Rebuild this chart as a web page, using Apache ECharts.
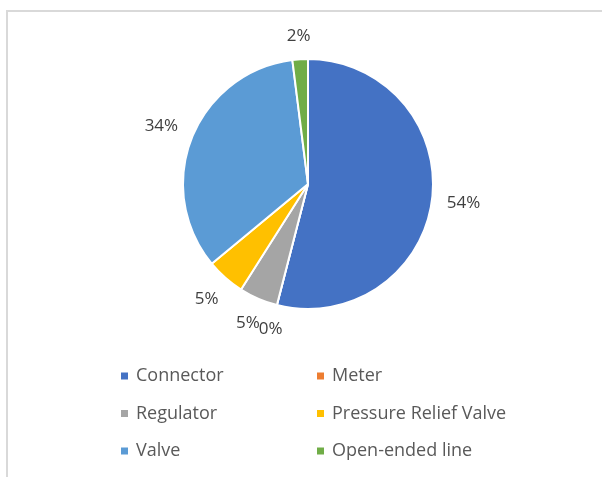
<!DOCTYPE html>
<html>
<head>
<meta charset="utf-8">
<script src="https://cdn.jsdelivr.net/npm/echarts@6/dist/echarts.min.js"></script>
<style>
  html, body { margin: 0; padding: 0; background: #fff; }
  #chart { width: 602px; height: 477px; }
</style>
</head>
<body>
<div id="chart"></div>
<script>
// 数据
const categories = ['Connector', 'Meter', 'Regulator', 'Pressure Relief Valve', 'Valve', 'Open-ended line']
const shares = [54, 0, 5, 5, 34, 2]
const colors = ['#4472C4', '#ED7D31', '#A5A5A5', '#FFC000', '#5B9BD5', '#70AD47']

const leftLegend = ['Connector', 'Regulator', 'Valve']
const rightLegend = ['Meter', 'Pressure Relief Valve', 'Open-ended line']

// 饼图几何
const cx = 308
const cy = 184
const radius = 125
const labelGap = 14

const total = shares.reduce((a, b) => a + b, 0)

// 标签放在扇区中线方向上，外侧留固定间距
const placeLabel = (params) => {
  const i = params.dataIndex
  let before = 0
  for (let k = 0; k < i; k++) before += shares[k]
  const mid = (before + shares[i] / 2) / total * Math.PI * 2
  const dx = Math.sin(mid)
  const dy = -Math.cos(mid)
  const w = params.labelRect.width
  const h = params.labelRect.height
  const d = radius + labelGap + Math.abs(dx) * w / 2 + Math.abs(dy) * h / 2
  return {
    x: cx + dx * d,
    y: cy + dy * d,
    align: 'center',
    verticalAlign: 'middle'
  }
}

const legendBase = {
  orient: 'vertical',
  top: 366,
  padding: 0,
  icon: 'rect',
  itemWidth: 7,
  itemHeight: 7,
  itemGap: 17.5,
  selectedMode: false,
  itemStyle: { borderWidth: 0 },
  textStyle: {
    fontFamily: 'Open Sans',
    fontSize: 18,
    color: '#595959',
    lineHeight: 20,
    padding: [0, 0, 0, 3]
  }
}

const chart = echarts.init(document.getElementById('chart'))
chart.setOption({
  animation: false,
  color: colors,
  graphic: [
    {
      type: 'rect',
      shape: { x: 7, y: 11, width: 700, height: 600 },
      style: { fill: 'none', stroke: '#d9d9d9', lineWidth: 2 },
      silent: true
    }
  ],
  legend: [
    Object.assign({}, legendBase, { left: 121, data: leftLegend }),
    Object.assign({}, legendBase, { left: 317, data: rightLegend })
  ],
  series: [
    {
      type: 'pie',
      center: [cx, cy],
      radius: radius,
      startAngle: 90,
      clockwise: true,
      avoidLabelOverlap: false,
      itemStyle: {
        borderColor: '#fff',
        borderWidth: 2
      },
      label: {
        show: true,
        position: 'outside',
        fontFamily: 'Open Sans',
        fontSize: 17,
        color: '#404040',
        formatter: (p) => Math.round(p.percent) + '%'
      },
      labelLine: { show: false },
      labelLayout: placeLabel,
      emphasis: { disabled: true },
      data: categories.map((name, i) => ({ name: name, value: shares[i] }))
    }
  ]
})
</script>
</body>
</html>
